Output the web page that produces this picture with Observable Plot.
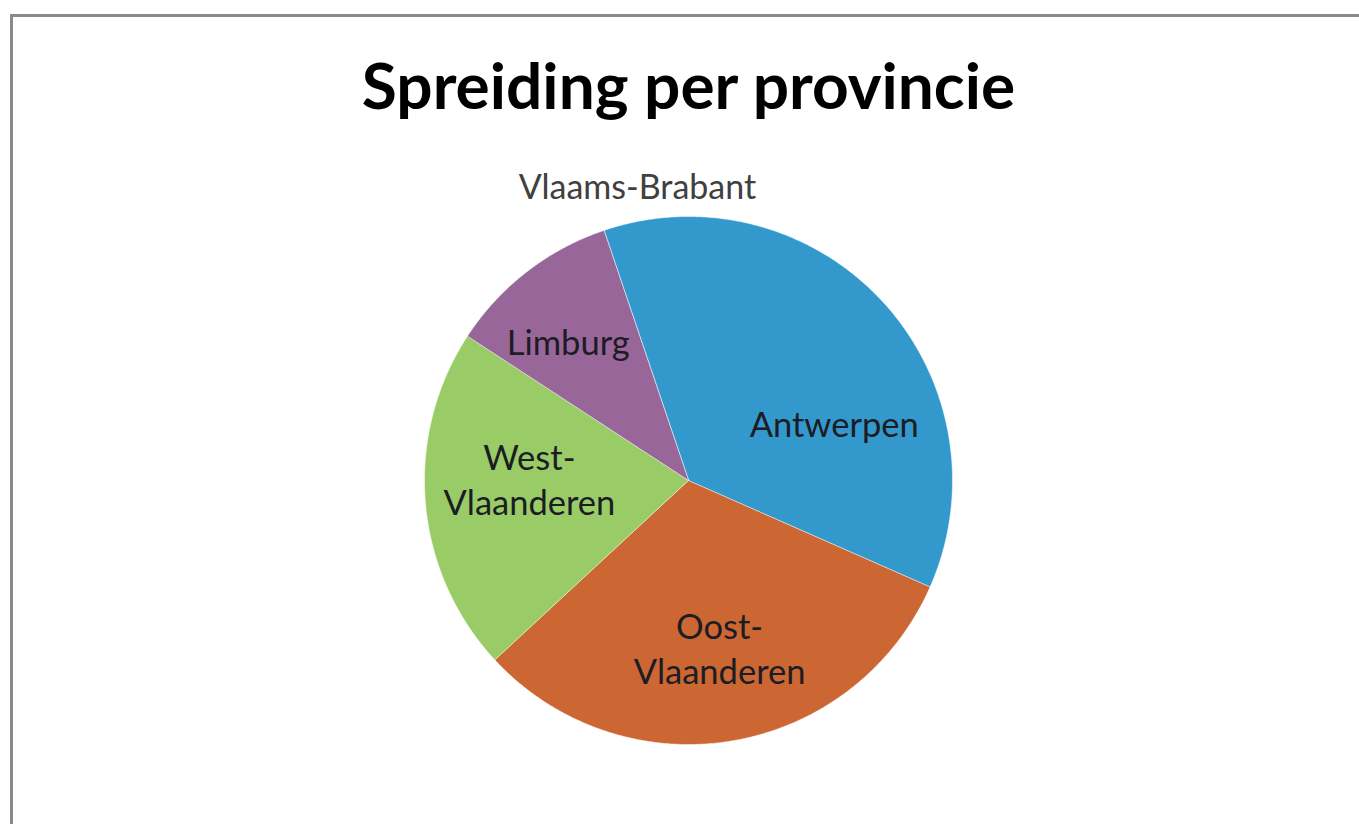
<!DOCTYPE html>
<html>
<head>
<meta charset="utf-8">
<script src="https://cdn.jsdelivr.net/npm/d3@7"></script>
<script src="https://cdn.jsdelivr.net/npm/@observablehq/plot@0.6"></script>
<style>
  html, body { margin: 0; padding: 0; background: #fff; }
  body { width: 1359px; height: 824px; position: relative; overflow: hidden; }
  #frame { position: absolute; left: 10px; top: 14px; width: 1400px; height: 900px;
           border-top: 3px solid #8a8a8a; border-left: 3px solid #8a8a8a; box-sizing: border-box; }
  #header { position: relative; height: 140px; }
  #title { position: absolute; left: 0; width: 1377px; text-align: center; top: 53px;
           font-family: Lato, sans-serif; font-weight: 700; font-size: 64px; line-height: 64px; color: #000; }
  #chart { position: relative; }
</style>
</head>
<body>
<div id="frame"></div>
<div id="header"><div id="title">Spreiding per provincie</div></div>
<div id="chart"></div>
<script>
// Data (share in %)
const provinces = ["Antwerpen", "Oost-Vlaanderen", "West-Vlaanderen", "Limburg", "Vlaams-Brabant"];
const shares    = [36.8, 31.5, 21.1, 10.6, 0];
const labels    = ["Antwerpen", "Oost-\nVlaanderen", "West-\nVlaanderen", "Limburg", "Vlaams-Brabant"];
const colors    = ["#3399cc", "#cc6633", "#99cc66", "#996699", "#7f7f7f"];

const startDeg = -18.7;
const R = 264, CX = 688, CY = 340;

const rows = provinces.map((p, i) => ({name: p, value: shares[i], label: labels[i]}));
const arcs = d3.pie().sort(null).value(d => d.value)
  .startAngle(startDeg * Math.PI / 180).endAngle((startDeg + 360) * Math.PI / 180)(rows);

// polygon vertices of each slice in unit-circle data space
const verts = [];
for (const a of arcs) {
  if (a.endAngle - a.startAngle <= 0) continue;
  verts.push({name: a.data.name, x: 0, y: 0});
  const n = Math.max(2, Math.ceil((a.endAngle - a.startAngle) / (Math.PI / 360)));
  for (let k = 0; k <= n; ++k) {
    const t = a.startAngle + (a.endAngle - a.startAngle) * k / n;
    verts.push({name: a.data.name, x: Math.sin(t), y: Math.cos(t)});
  }
}

// label anchors: mid-angle at a fraction of the radius, nudged like Excel's best fit (px)
const nudge = {
  "Antwerpen": [25, 53], "Oost-Vlaanderen": [4, 5], "West-Vlaanderen": [4, -16],
  "Limburg": [-20, -10], "Vlaams-Brabant": [42, -17]
};
const labelRows = arcs.map(a => {
  const m = (a.startAngle + a.endAngle) / 2;
  const r = a.data.value > 0 ? 0.62 : 1.1;
  const [dx, dy] = nudge[a.data.name];
  return {
    name: a.data.name, label: a.data.label, outside: a.data.value <= 0,
    x: r * Math.sin(m) + dx / R, y: r * Math.cos(m) - dy / R
  };
});

const chart = Plot.plot({
  width: 1359,
  height: 684,
  margin: 0,
  x: {domain: [-1, 1], range: [CX - R, CX + R], axis: null},
  y: {domain: [-1, 1], range: [CY + R, CY - R], axis: null},
  color: {domain: provinces, range: colors},
  style: {background: "transparent", overflow: "visible"},
  marks: [
    Plot.line(verts, {x: "x", y: "y", z: "name", fill: "name", stroke: "white",
      strokeWidth: 1, strokeOpacity: 0.5, curve: "linear-closed"}),
    Plot.text(labelRows.filter(d => !d.outside), {x: "x", y: "y", text: "label",
      fontFamily: "Lato, sans-serif", fontSize: 34.5, lineHeight: 1.3, fill: "#1c1c24"}),
    Plot.text(labelRows.filter(d => d.outside), {x: "x", y: "y", text: "label",
      fontFamily: "Lato, sans-serif", fontSize: 34, fill: "#404040"})
  ]
});
document.getElementById("chart").appendChild(chart);
</script>
</body>
</html>
